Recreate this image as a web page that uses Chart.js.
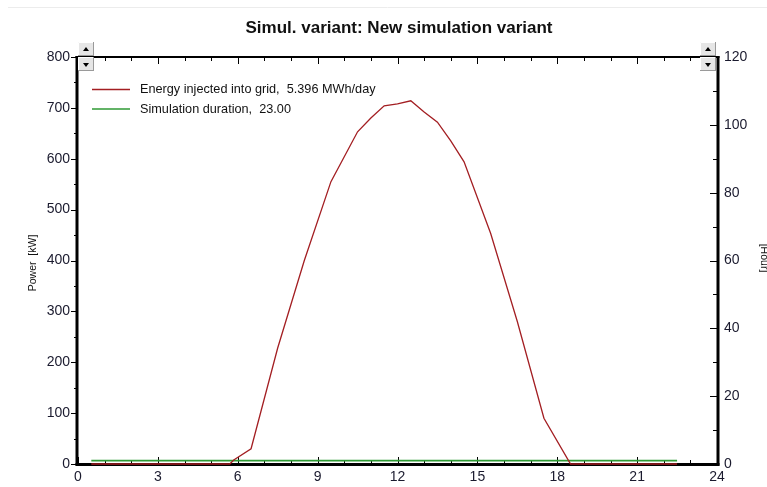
<!DOCTYPE html>
<html>
<head>
<meta charset="utf-8">
<script src="https://cdn.jsdelivr.net/npm/chart.js@4/dist/chart.umd.min.js"></script>
<style>
  html, body { margin: 0; padding: 0; background: #fff; }
  canvas { display: block; }
</style>
</head>
<body>
<canvas id="grafico" width="767" height="487"></canvas>
<script>
// datos
const titulo = "Simul. variant: New simulation variant";
const etiquetaEnergia = "Energy injected into grid,  5.396 MWh/day";
const etiquetaDuracion = "Simulation duration,  23.00";
const horasEnergia = [0.5, 5.7, 5.85, 6.5, 7.5, 8.5, 9.5, 10.5, 11, 11.5, 12, 12.5, 13, 13.5, 14, 14.5, 15.5, 16.5, 17.5, 18.5, 22.5];
const potencia = [0, 0, 8, 30, 228, 400, 555, 653, 680, 704, 708, 714, 692, 672, 635, 594, 453, 280, 90, 0, 0];
const horasDuracion = [0.5, 22.5];
const duracion = [1, 1];
const ejeX = { min: 0, max: 24, paso: 3 };
const ejePotencia = { min: 0, max: 800, paso: 100 };
const ejeHoras = { min: 0, max: 120, paso: 20 };

const fuente = "'Liberation Sans', Arial, sans-serif";

function linea(ctx, x1, y1, x2, y2) {
  ctx.beginPath();
  ctx.moveTo(x1, y1);
  ctx.lineTo(x2, y2);
  ctx.stroke();
}

function boton(ctx, x, y, arriba) {
  ctx.fillStyle = "#e6e6e6";
  ctx.fillRect(x, y, 16, 14);
  ctx.strokeStyle = "#fff";
  ctx.lineWidth = 1;
  linea(ctx, x + 0.5, y + 14, x + 0.5, y + 0.5);
  linea(ctx, x + 0.5, y + 0.5, x + 16, y + 0.5);
  ctx.strokeStyle = "#9a9a9a";
  linea(ctx, x + 15.5, y, x + 15.5, y + 13.5);
  linea(ctx, x, y + 13.5, x + 16, y + 13.5);
  ctx.fillStyle = "#000";
  ctx.beginPath();
  if (arriba) {
    ctx.moveTo(x + 5, y + 9); ctx.lineTo(x + 11, y + 9); ctx.lineTo(x + 8, y + 5);
  } else {
    ctx.moveTo(x + 5, y + 6); ctx.lineTo(x + 11, y + 6); ctx.lineTo(x + 8, y + 10);
  }
  ctx.fill();
}

const marco = {
  id: "marco",
  beforeDatasetsDraw(chart) {
    const { ctx, chartArea: a, scales } = chart;
    ctx.save();
    ctx.strokeStyle = "#000";
    ctx.lineWidth = 1;
    for (let h = ejeX.min; h <= ejeX.max; h++) {
      const x = Math.round(scales.x.getPixelForValue(h)) + 0.5;
      const largo = h % ejeX.paso === 0 ? 7 : 4;
      linea(ctx, x, a.bottom, x, a.bottom - largo);
      linea(ctx, x, a.top, x, a.top + largo);
    }
    for (let v = ejePotencia.min; v <= ejePotencia.max; v += ejePotencia.paso / 2) {
      const y = Math.round(scales.y.getPixelForValue(v)) + 0.5;
      const largo = v % ejePotencia.paso === 0 ? 7 : 4;
      linea(ctx, a.left - largo, y, a.left, y);
    }
    for (let v = ejeHoras.min; v <= ejeHoras.max; v += ejeHoras.paso / 2) {
      const y = Math.round(scales.y2.getPixelForValue(v)) + 0.5;
      const largo = v % ejeHoras.paso === 0 ? 7 : 4;
      linea(ctx, a.right - largo, y, a.right, y);
    }
    ctx.lineWidth = 3;
    linea(ctx, a.left - 1, a.top - 1, a.left - 1, a.bottom + 1.5);
    linea(ctx, a.left - 2.5, a.bottom + 0.5, a.right + 2.5, a.bottom + 0.5);
    linea(ctx, a.right + 1, a.top - 1, a.right + 1, a.bottom + 1.5);
    ctx.lineWidth = 2;
    linea(ctx, a.left - 2.5, a.top, a.right + 2.5, a.top);
    ctx.restore();
  },
  afterDraw(chart) {
    const { ctx } = chart;
    ctx.save();
    // linea gris superior
    ctx.strokeStyle = "#ececec";
    ctx.lineWidth = 1;
    linea(ctx, 8, 7.5, chart.width, 7.5);

    ctx.fillStyle = "#111";
    ctx.font = "bold 17px " + fuente;
    ctx.textAlign = "center";
    ctx.textBaseline = "middle";
    ctx.fillText(titulo, 399, 28);

    // leyenda
    ctx.font = "12.7px " + fuente;
    ctx.textAlign = "left";
    chart.data.datasets.forEach((ds, i) => {
      const y = 89.5 + i * 19.5;
      ctx.strokeStyle = ds.borderColor;
      ctx.lineWidth = 1.3;
      linea(ctx, 92, y, 130, y);
      ctx.fillStyle = "#111";
      ctx.fillText(ds.label, 140, y);
    });

    // titulos de ejes
    ctx.font = "10.5px " + fuente;
    ctx.fillStyle = "#111";
    ctx.save();
    ctx.translate(33, 263);
    ctx.rotate(-Math.PI / 2);
    ctx.textAlign = "center";
    ctx.fillText("Power  [kW]", 0, 0);
    ctx.restore();
    ctx.save();
    ctx.translate(764, 258);
    ctx.rotate(Math.PI / 2);
    ctx.textAlign = "center";
    ctx.fillText("[Hour]", 0, 0);
    ctx.restore();

    boton(ctx, 78, 42, true);
    boton(ctx, 78, 57, false);
    boton(ctx, 700, 42, true);
    boton(ctx, 700, 57, false);
    ctx.restore();
  }
};

const ticksFuente = { family: fuente, size: 14 };

new Chart(document.getElementById("grafico"), {
  type: "line",
  data: {
    datasets: [
      {
        label: etiquetaEnergia,
        data: horasEnergia.map((h, i) => ({ x: h, y: potencia[i] })),
        borderColor: "#a31e22",
        borderWidth: 1.3,
        pointRadius: 0,
        fill: false,
        tension: 0,
        clip: false,
        yAxisID: "y"
      },
      {
        label: etiquetaDuracion,
        data: horasDuracion.map((h, i) => ({ x: h, y: duracion[i] })),
        borderColor: "#2f9a35",
        borderWidth: 1.6,
        pointRadius: 0,
        fill: false,
        tension: 0,
        clip: false,
        yAxisID: "y2"
      }
    ]
  },
  options: {
    responsive: false,
    animation: false,
    devicePixelRatio: 1,
    layout: { padding: { top: 57, left: 0, right: 0, bottom: 0 } },
    plugins: { legend: { display: false }, title: { display: false }, tooltip: { enabled: false } },
    scales: {
      x: {
        type: "linear",
        min: ejeX.min,
        max: ejeX.max,
        border: { display: false },
        grid: { display: false, drawTicks: false },
        ticks: { stepSize: ejeX.paso, color: "#1a1a2e", font: ticksFuente, padding: 5, maxRotation: 0 },
        afterFit: (s) => { s.height = 23; }
      },
      y: {
        position: "left",
        min: ejePotencia.min,
        max: ejePotencia.max,
        border: { display: false },
        grid: { display: false, drawTicks: false },
        ticks: { stepSize: ejePotencia.paso, color: "#1a1a2e", font: ticksFuente, padding: 8 },
        afterFit: (s) => { s.width = 78; }
      },
      y2: {
        position: "right",
        min: ejeHoras.min,
        max: ejeHoras.max,
        border: { display: false },
        grid: { display: false, drawTicks: false },
        ticks: { stepSize: ejeHoras.paso, color: "#1a1a2e", font: ticksFuente, padding: 7 },
        afterFit: (s) => { s.width = 50; }
      }
    }
  },
  plugins: [marco]
});
</script>
</body>
</html>
